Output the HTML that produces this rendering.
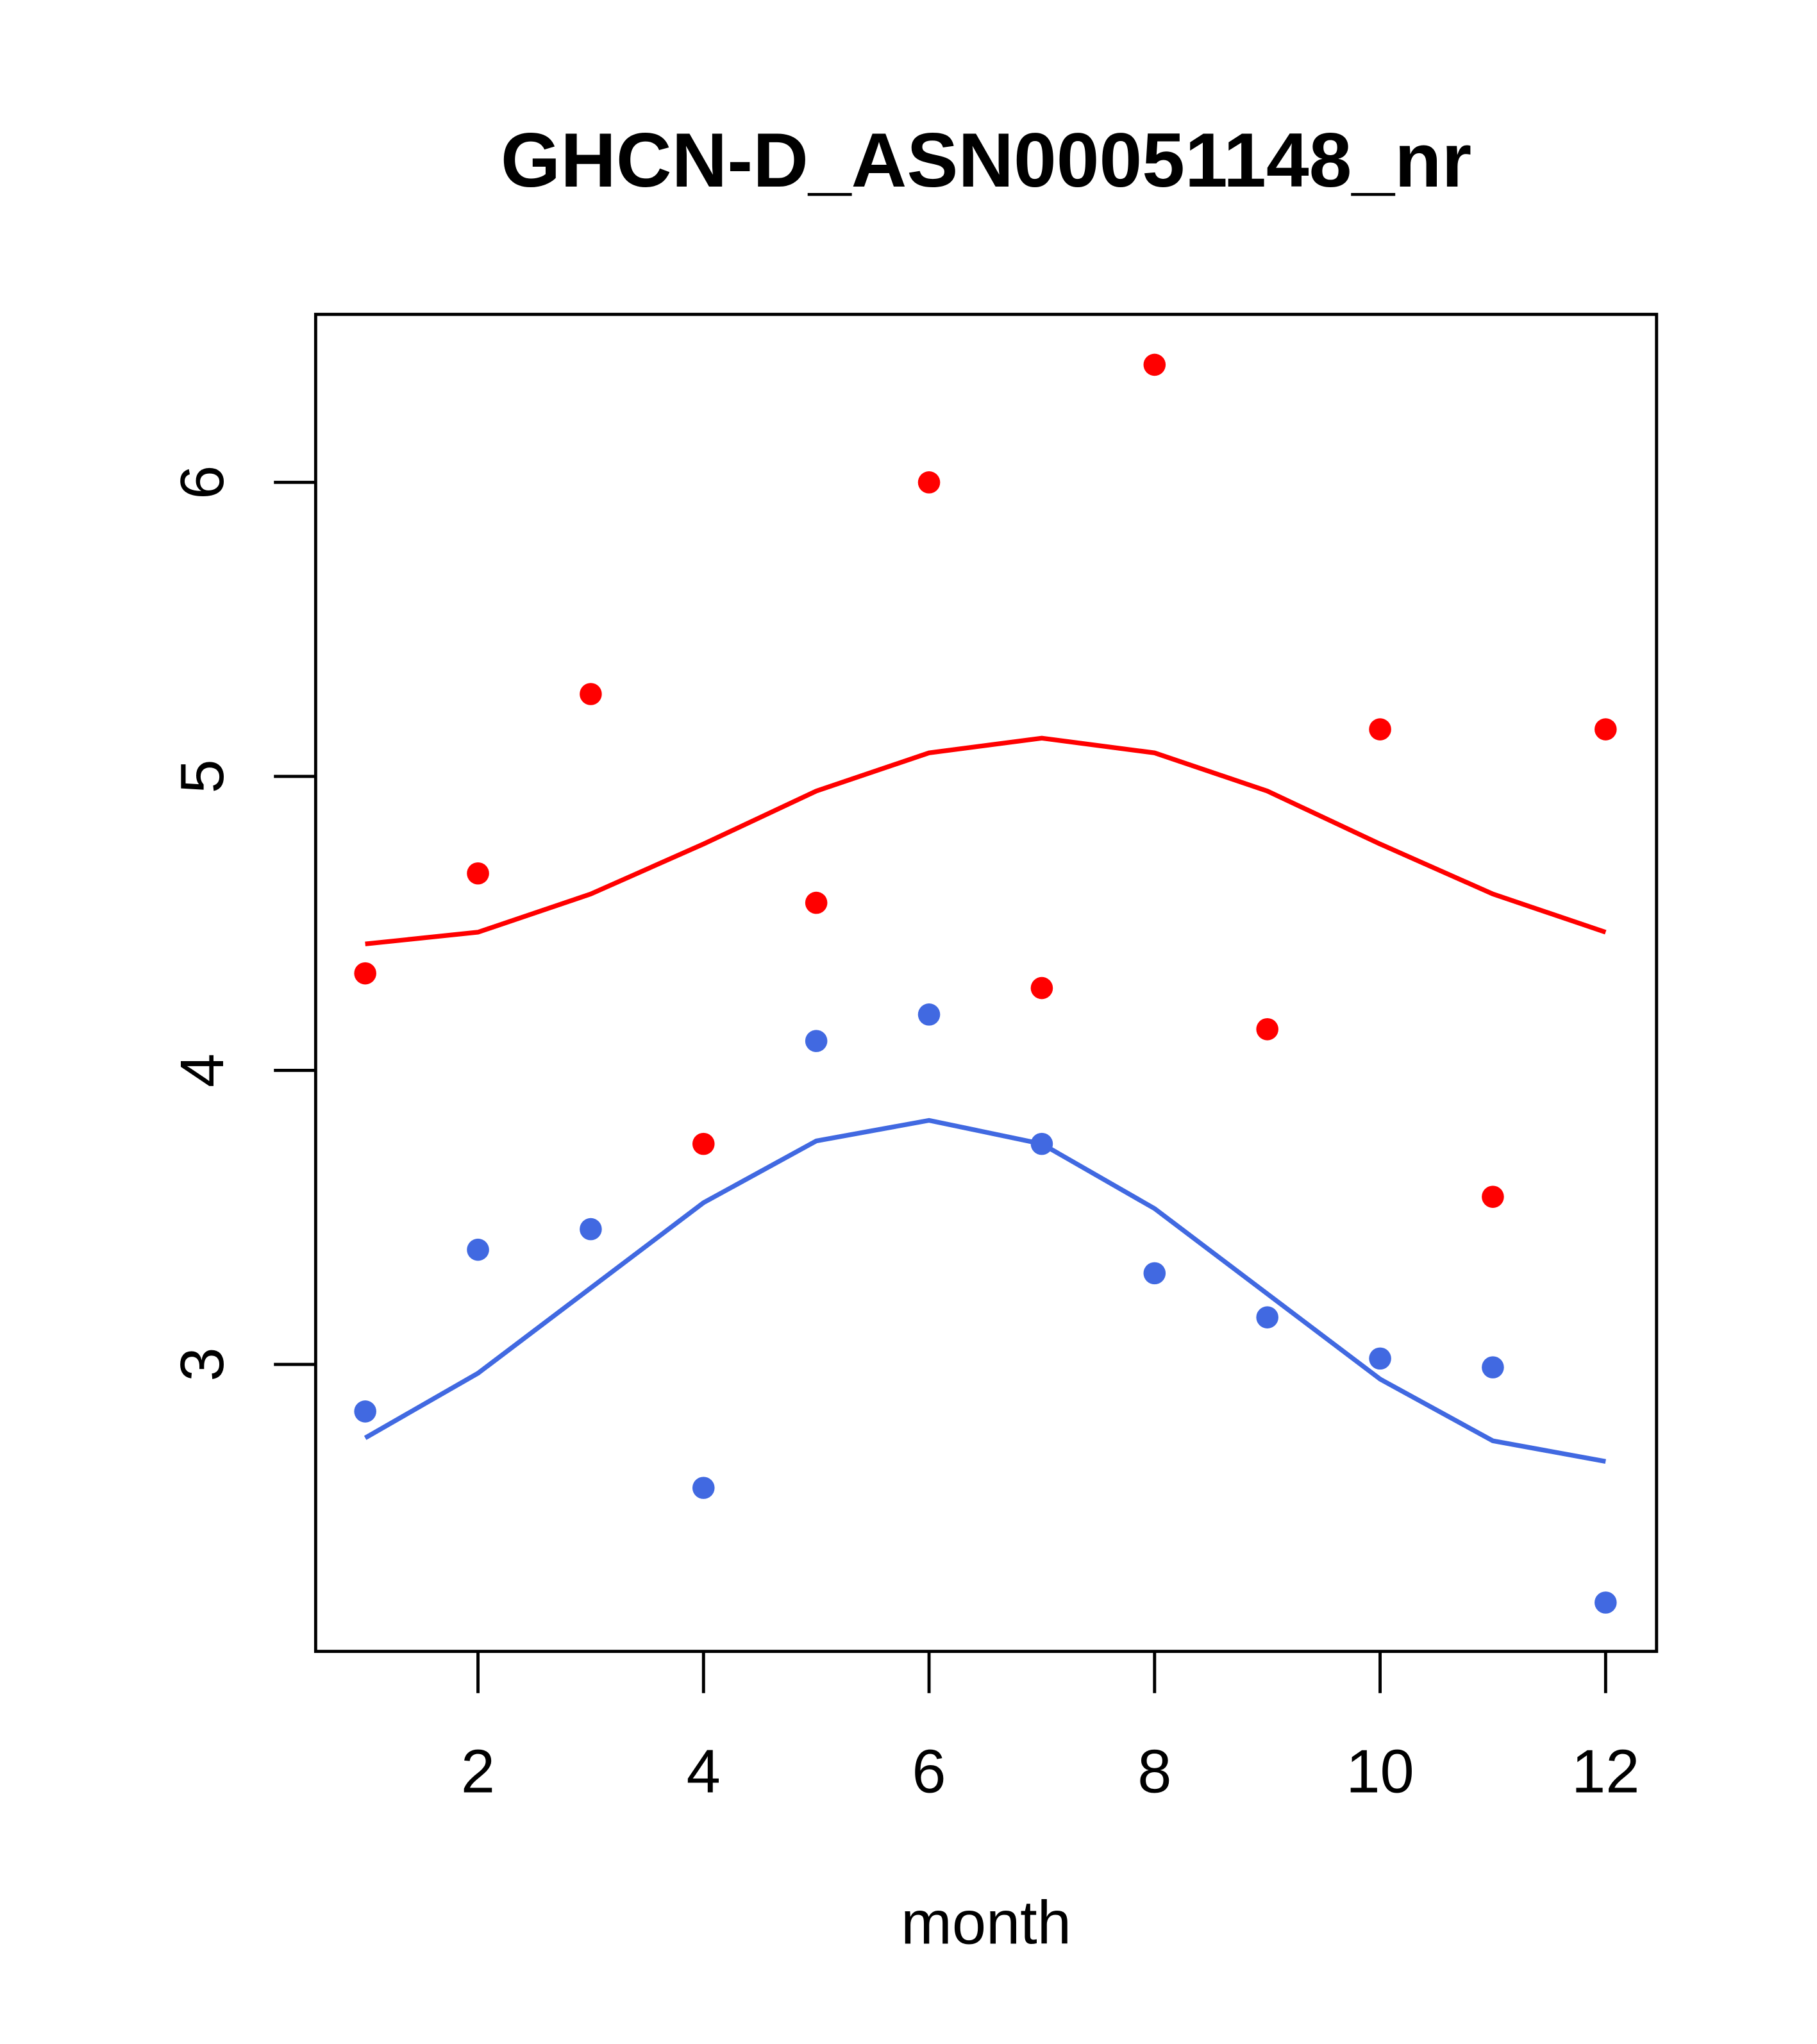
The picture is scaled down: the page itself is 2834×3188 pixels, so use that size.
<!DOCTYPE html>
<html><head><meta charset="utf-8"><style>html,body{margin:0;padding:0;background:#fff}svg{display:block}</style></head>
<body>
<svg id="chart" width="2834" height="3188" viewBox="0 0 1393 1567" preserveAspectRatio="none" xmlns="http://www.w3.org/2000/svg" font-family="Liberation Sans, sans-serif">
<text x="756" y="143" text-anchor="middle" font-size="59" font-weight="bold">GHCN-D_ASN00051148_nr</text>
<rect x="242" y="241" width="1028" height="1025" fill="none" stroke="#000" stroke-width="2.4"/>
<g id="xaxis"></g>
<g id="yaxis"></g>
<text x="756" y="1490" text-anchor="middle" font-size="47">month</text>
<g id="marks"></g>
</svg>
<script>
const months=[1,2,3,4,5,6,7,8,9,10,11,12];
const redPoints=[4.33,4.67,5.28,3.75,4.57,6.0,4.28,6.4,4.14,5.16,3.57,5.16];
const redLine=[4.43,4.47,4.60,4.77,4.95,5.08,5.13,5.08,4.95,4.77,4.60,4.47];
const bluePoints=[2.84,3.39,3.46,2.58,4.10,4.19,3.75,3.31,3.16,3.02,2.99,2.19];
const blueLine=[2.75,2.97,3.26,3.55,3.76,3.83,3.75,3.53,3.24,2.95,2.74,2.67];
const xTicks=[2,4,6,8,10,12];
const yTicks=[3,4,5,6];
const NS="http://www.w3.org/2000/svg";
function sx(m){return 280+(m-1)*86.45;}
function sy(v){return 1046-(v-3)*225.4;}
function mk(t,a,p){const e=document.createElementNS(NS,t);for(const k in a)e.setAttribute(k,a[k]);p.appendChild(e);return e;}
const xa=document.getElementById('xaxis'),ya=document.getElementById('yaxis'),mg=document.getElementById('marks');
xTicks.forEach(t=>{
 const l=mk('line',{x1:sx(t),x2:sx(t),y1:1266,y2:1298,stroke:'#000','stroke-width':2.4},xa);
 
 
 const tx=mk('text',{x:sx(t),y:1374,'text-anchor':'middle','font-size':47},xa);tx.textContent=t;
 
 
});
yTicks.forEach(t=>{
 const l=mk('line',{x1:210,x2:242,y1:sy(t),y2:sy(t),stroke:'#000','stroke-width':2.4},ya);
 
 
 const tx=mk('text',{x:0,y:0,transform:`translate(171,${sy(t)}) rotate(-90)`,'text-anchor':'middle','font-size':47},ya);tx.textContent=t;
 
 
});
function line(vals,col,name){
 const p=mk('polyline',{points:vals.map((v,i)=>sx(months[i])+','+sy(v)).join(' '),fill:'none',stroke:col,'stroke-width':3.6},mg);
 
 
}
function pts(vals,col,name){
 vals.forEach((v,i)=>{
  const c=mk('circle',{cx:sx(months[i]),cy:sy(v),r:8.5,fill:col},mg);
  
  
 });
}
line(redLine,'#ff0000','red-line');
line(blueLine,'#4169e1','blue-line');
pts(redPoints,'#ff0000','red-point');
pts(bluePoints,'#4169e1','blue-point');
</script>
</body></html>
